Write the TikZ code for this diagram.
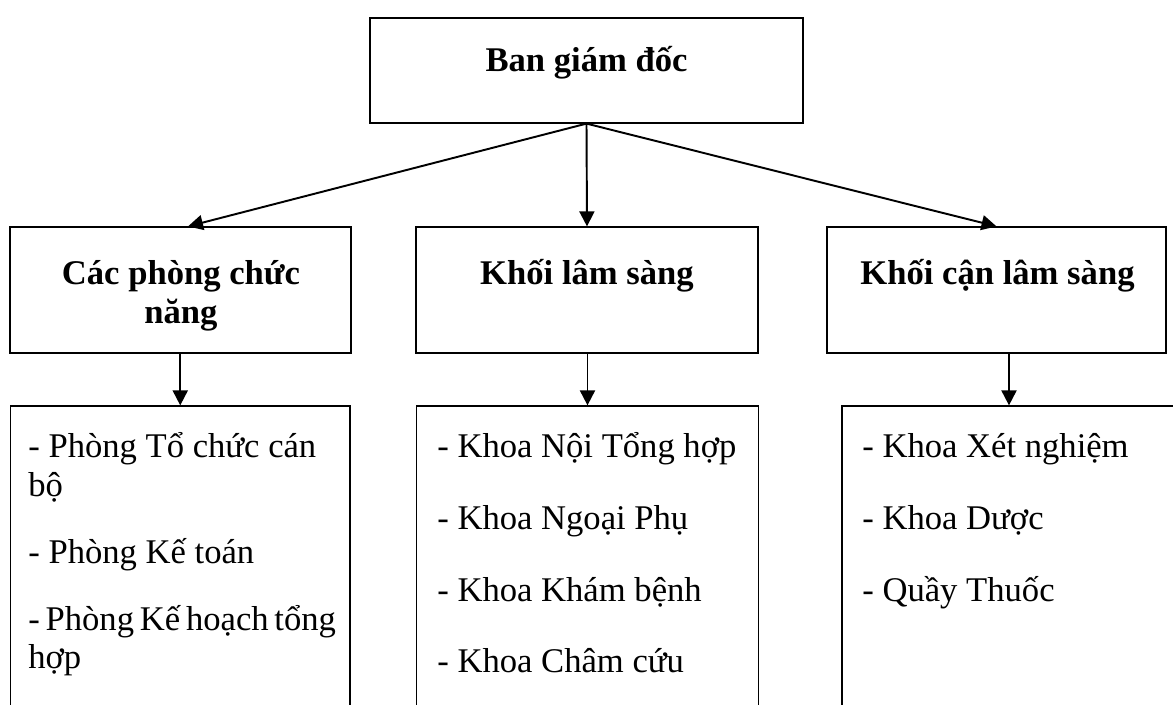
\documentclass[tikz,border=0pt]{standalone}
\usepackage{fontspec}
\setmainfont{Liberation Serif}
\usetikzlibrary{arrows.meta}

\begin{document}
\begin{tikzpicture}[
    box/.style={draw, line width=0.7pt, inner sep=0pt},
    head/.style={font=\fontsize{19.7}{23.6}\selectfont\bfseries, anchor=base, inner sep=0pt},
    item/.style={font=\fontsize{19.7}{23.6}\selectfont, anchor=base west, inner sep=0pt},
    arr/.style={-{Triangle[length=3mm, width=3mm]}, line width=1.1pt}
]
    \clip (0,0) rectangle (23.46,14.08);

    % Top box
    \node[box, minimum width=8.66cm, minimum height=2.1cm] (bgd) at (11.73,12.67) {};
    \node[head] (bgdtext) at (11.73,12.64) {Ban giám đốc};

    % Second row
    \node[box, minimum width=6.82cm, minimum height=2.52cm] (cpcn) at (3.61,8.28) {};
    \node[box, minimum width=6.84cm, minimum height=2.52cm] (kls) at (11.74,8.28) {};
    \node[box, minimum width=6.78cm, minimum height=2.52cm] (kcls) at (19.93,8.28) {};
    \node[head] (cpcntext1) at (3.62,8.38) {Các phòng chức};
    \node[head] (cpcntext2) at (3.62,7.60) {năng};
    \node[head] (klstext) at (11.74,8.38) {Khối lâm sàng};
    \node[head] (kclstext) at (19.95,8.38) {Khối cận lâm sàng};

    % Arrows from the board
    \draw[arr] (bgd.south) -- ([xshift=1.5mm]cpcn.north);
    \draw[arr] (bgd.south) -- (kls.north);
    \draw[arr] (bgd.south) -- (kcls.north);

    % Bottom row (open at the bottom)
    \node[box, minimum width=6.79cm, minimum height=7cm] (pcnlist) at (3.605,2.46) {};
    \node[box, minimum width=6.84cm, minimum height=7cm] (klslist) at (11.75,2.46) {};
    \node[box, minimum width=6.68cm, minimum height=7cm] (kclslist) at (20.18,2.46) {};

    % Arrows down
    \draw[arr] (cpcn.south -| pcnlist.north) -- (pcnlist.north);
    \draw[arr] (kls.south -| klslist.north) -- (klslist.north);
    \draw[arr] (kcls.south -| kclslist.north) -- (kclslist.north);

    % Items
    \node[item] (pcn1) at (0.56,4.92) {- Phòng Tổ chức cán};
    \node[item] (pcn2) at (0.56,4.14) {bộ};
    \node[item] (pcn3) at (0.56,2.80) {- Phòng Kế toán};
    \node[item] (pcn4) at (0.56,1.48) {\makebox[6.1cm][s]{- Phòng Kế hoạch tổng}};
    \node[item] (pcn5) at (0.56,0.72) {hợp};
    \foreach \t [count=\i] in {Khoa Nội Tổng hợp, Khoa Ngoại Phụ, Khoa Khám bệnh, Khoa Châm cứu}
        \node[item] (kls\i) at (8.74,{4.92-(\i-1)*1.433}) {- \t};
    \foreach \t [count=\i] in {Khoa Xét nghiệm, Khoa Dược, Quầy Thuốc}
        \node[item] (kcls\i) at (17.24,{4.92-(\i-1)*1.433}) {- \t};
\end{tikzpicture}
\end{document}
